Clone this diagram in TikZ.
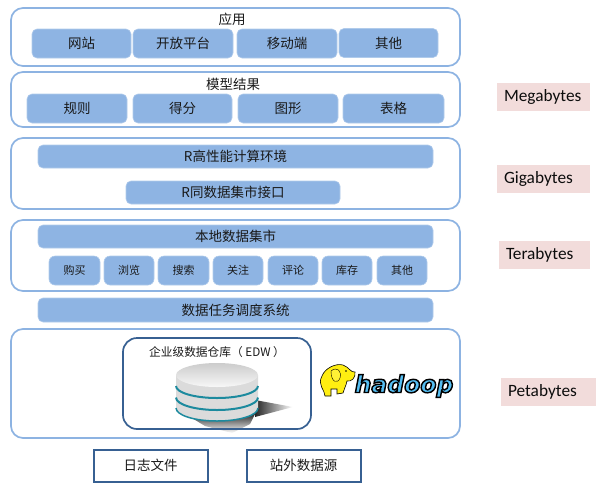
\documentclass[tikz,border=0pt]{standalone}
\usepackage{fontspec}
\usepackage{xcolor}
\setmainfont{Carlito}
\newfontfamily\cjk{Noto Sans CJK SC}
\newfontfamily\hadoopfont{DejaVu Sans}[BoldItalicFont=*-Bold Oblique]
\usetikzlibrary{positioning,calc,shadings}
\definecolor{layerline}{HTML}{8DB3E2}
\definecolor{blockfill}{HTML}{8EB4E3}
\definecolor{darkline}{HTML}{376092}
\definecolor{sizefill}{HTML}{F2DCDB}
\definecolor{bandteal}{HTML}{1C8A9E}
\definecolor{hadoopblue}{HTML}{55BEF2}
\definecolor{elephant}{HTML}{FFEE11}
\tikzset{
	layer/.style={draw=layerline,line width=1.7pt,rounded corners=12pt,inner sep=0pt,outer sep=0pt},
	block/.style={fill=blockfill,draw=blockfill!70!white,line width=0.6pt,rounded corners=5pt,inner sep=0pt,outer sep=0pt,text=black!90,font=\cjk\fontsize{13.5}{15}\selectfont},
	tinyblock/.style={block,font=\cjk\fontsize{11}{13}\selectfont,rounded corners=6pt},
	title/.style={inner sep=0pt,text=black!90,font=\cjk\fontsize{13.5}{15}\selectfont},
	source/.style={draw=darkline,line width=2pt,inner sep=0pt,outer sep=0pt,text=black!90,font=\cjk\fontsize{13.5}{15}\selectfont},
	sizetag/.style={fill=sizefill,inner xsep=7pt,inner ysep=0pt,outer sep=0pt,align=left,minimum height=28pt,text=black!95,font=\fontsize{17.3}{19}\selectfont},
	band/.style={draw=bandteal,line width=2pt}
}
\begin{document}
\begin{tikzpicture}[x=1pt,y=-1pt]
	\useasboundingbox (0,0) rectangle (599,488);
	% layers
	\node[layer,minimum width=449pt,minimum height=58pt] (app) at (235.5,37) {};
	\node[layer,minimum width=449pt,minimum height=55pt] (model) at (235.5,99.5) {};
	\node[layer,minimum width=449pt,minimum height=71pt] (rlayer) at (235.5,173.5) {};
	\node[layer,minimum width=449pt,minimum height=71pt] (mart) at (235.5,255.5) {};
	\node[layer,minimum width=449pt,minimum height=109pt] (store) at (235.5,383.5) {};
	% application
	\node[title] (apptitle) at (232,19) {应用};
	\node[block,minimum width=99pt,minimum height=29pt] (web) at (81.5,43.5) {网站};
	\node[block,minimum width=100pt,minimum height=29pt] (open) at (183,43.5) {开放平台};
	\node[block,minimum width=100pt,minimum height=29pt] (mobile) at (287,43.5) {移动端};
	\node[block,minimum width=99pt,minimum height=29pt] (appother) at (388.5,43) {其他};
	% model results
	\node[title] (modeltitle) at (233,84) {模型结果};
	\node[block,minimum width=100pt,minimum height=29pt] (rules) at (77,108.5) {规则};
	\node[block,minimum width=99pt,minimum height=29pt] (score) at (182.5,108.5) {得分};
	\node[block,minimum width=100pt,minimum height=29pt] (chart) at (288,108.5) {图形};
	\node[block,minimum width=101pt,minimum height=29pt] (table) at (393.5,108.5) {表格};
	% R
	\node[block,minimum width=395pt,minimum height=23pt] (rhpc) at (235.5,156.5) {R高性能计算环境};
	\node[block,minimum width=214pt,minimum height=23pt] (rport) at (233,192.5) {R同数据集市接口};
	% data mart
	\node[block,minimum width=395pt,minimum height=23pt] (local) at (235.5,236.5) {本地数据集市};
	\node[tinyblock,minimum width=51pt,minimum height=29pt] (buy) at (74.5,270.5) {购买};
	\node[tinyblock,minimum width=50pt,minimum height=29pt] (browse) at (129,270.5) {浏览};
	\node[tinyblock,minimum width=51pt,minimum height=29pt] (search) at (183.5,270.5) {搜索};
	\node[tinyblock,minimum width=50pt,minimum height=29pt] (follow) at (238,270.5) {关注};
	\node[tinyblock,minimum width=50pt,minimum height=29pt] (review) at (293,270.5) {评论};
	\node[tinyblock,minimum width=50pt,minimum height=29pt] (stock) at (347,270.5) {库存};
	\node[tinyblock,minimum width=50pt,minimum height=29pt] (martother) at (402,270.5) {其他};
	% scheduler
	\node[block,minimum width=395pt,minimum height=24pt] (sched) at (235.5,310) {数据任务调度系统};
	% disk shadow goes under the frame
	\shade[left color=black!85,right color=white] (255,400) -- (293,407) -- (255,417) -- cycle;
	\shade[top color=black!90,bottom color=white] (182,412) -- (256,412) -- (250,424) -- (232,433) -- (205,426) -- cycle;
	% warehouse
	\node[draw=darkline,line width=1.7pt,rounded corners=14pt,minimum width=188pt,minimum height=91pt,inner sep=0pt] (edw) at (217,383.5) {};
	\node[title,font=\cjk\fontsize{11.7}{13}\selectfont] (edwtitle) at (217,352) {企业级数据仓库（ EDW ）};
	% disk
	\shade[left color=black!14,middle color=white,right color=black!14] (176,375) -- (176,408) arc[start angle=180,end angle=0,x radius=41,y radius=13] -- (258,375) -- cycle;
	\shade[top color=black!20,bottom color=black!3] (217,375) ellipse[x radius=41,y radius=12];
	\draw[band] (176,386) arc[start angle=180,end angle=0,x radius=41,y radius=12];
	\draw[band] (176,397.5) arc[start angle=180,end angle=0,x radius=41,y radius=12.5];
	\draw[band,line width=1.5pt] (176,408) arc[start angle=180,end angle=0,x radius=41,y radius=13];
	% elephant
	\filldraw[fill=elephant,draw=black,line width=0.6pt] (322,376) .. controls (325,368) and (336,363) .. (343,365) .. controls (349,367) and (351,373) .. (355,372) .. controls (356,378) and (351,382) .. (347,381) .. controls (346,386) and (344,389) .. (343,393) -- (337,394) -- (337,389) -- (331,389) -- (331,396) -- (325,396) .. controls (325,390) and (317,385) .. (322,376) -- cycle;
	\filldraw[fill=elephant!85!white,draw=black,line width=0.4pt] (331,371) .. controls (337,366) and (342,371) .. (340,378) .. controls (338,384) and (331,383) .. (331,371) -- cycle;
	\fill[black] (346,371) circle[radius=0.8];
	% hadoop
	\node[inner sep=0pt,font=\hadoopfont\bfseries\itshape\fontsize{21}{24}\selectfont] (hadoop) at (404,386) {\scalebox{1.12}[1.12]{\color{hadoopblue}\special{pdf:code 2 Tr 0 0 0 RG 1.3 w}hadoop\special{pdf:code 0 Tr}}};
	% sources
	\node[source,minimum width=114pt,minimum height=32pt] (logs) at (150.5,465.5) {日志文件};
	\node[source,minimum width=114pt,minimum height=32pt] (external) at (303.5,465.5) {站外数据源};
	% sizes
	\node[sizetag,text width=79pt] (mega) at (543.5,97) {Megabytes};
	\node[sizetag,text width=79pt] (giga) at (543.5,178.5) {Gigabytes};
	\node[sizetag,text width=77pt] (tera) at (544.5,255) {Terabytes};
	\node[sizetag,text width=81pt] (peta) at (548.5,392) {Petabytes};
\end{tikzpicture}
\end{document}
